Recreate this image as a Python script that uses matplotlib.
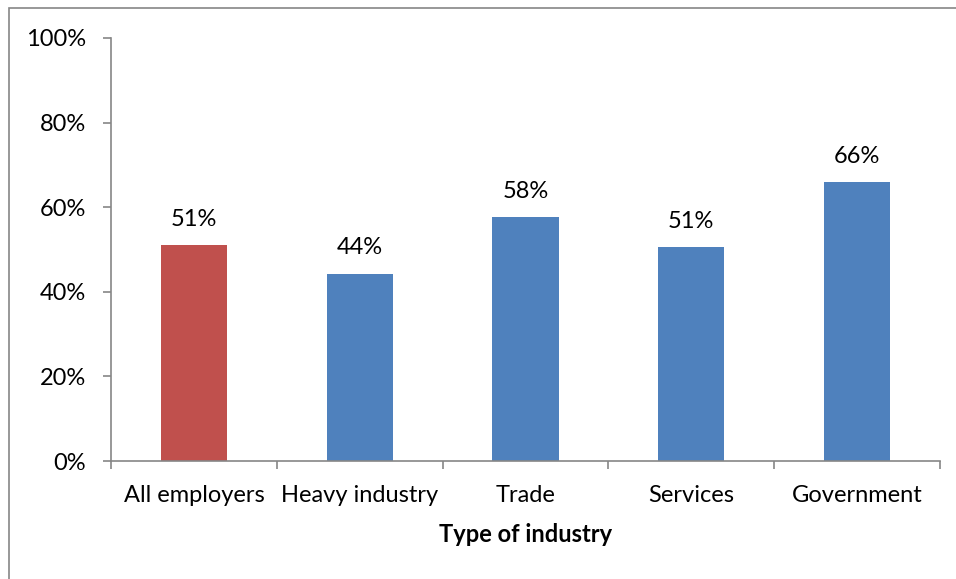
import numpy as np
import matplotlib
matplotlib.use('Agg')
import matplotlib.pyplot as plt
from matplotlib.patches import Rectangle
from matplotlib.ticker import FuncFormatter, MultipleLocator

plt.rcParams['font.family'] = ['Lato', 'DejaVu Sans']

categories = ['All employers', 'Heavy industry', 'Trade', 'Services', 'Government']
values = [0.51, 0.443, 0.577, 0.505, 0.66]
labels = ['51%', '44%', '58%', '51%', '66%']
colors = ['#C0504D', '#4F81BD', '#4F81BD', '#4F81BD', '#4F81BD']

W, H = 956, 579
fig = plt.figure(figsize=(W / 100, H / 100), dpi=100)
ax = fig.add_axes([111 / W, 1 - 461 / H, (940 - 111) / W, (461 - 38) / H])

# outer chart border (cut off at right and bottom like the reference)
fig.patches.append(Rectangle((9 / W, -0.1), 1.2, 1 - 8 / H + 0.1,
                             transform=fig.transFigure, fill=False,
                             edgecolor='#868686', linewidth=1.2))

fs = 17
x = np.arange(len(categories))
ax.bar(x, values, width=0.4, color=colors, zorder=2)
for xi, v, lab in zip(x, values, labels):
    ax.text(xi, v + 0.036, lab, ha='center', va='bottom', fontsize=fs)

ax.set_xlim(-0.5, len(categories) - 0.5)
ax.set_ylim(0, 1)
ax.yaxis.set_major_locator(MultipleLocator(0.2))
ax.yaxis.set_major_formatter(FuncFormatter(lambda v, p: '{:.0f}%'.format(v * 100)))

# x ticks at category boundaries, labels centered
ax.set_xticks(np.arange(-0.5, len(categories), 1.0))
ax.set_xticklabels([])
ax.set_xticks(x, minor=True)
ax.set_xticklabels(categories, minor=True)
ax.tick_params(axis='x', which='minor', length=0, pad=17.5, labelsize=fs)
ax.tick_params(axis='x', which='major', length=6, width=1.2, color='#868686', direction='out')
ax.tick_params(axis='y', length=6, width=1.2, color='#868686', direction='out', pad=12, labelsize=fs)

for s in ['top', 'right']:
    ax.spines[s].set_visible(False)
for s in ['left', 'bottom']:
    ax.spines[s].set_color('#868686')
    ax.spines[s].set_linewidth(1.2)

ax.set_xlabel('Type of industry', fontsize=fs, fontweight='bold', labelpad=12)

fig.savefig('out.png', dpi=100)
